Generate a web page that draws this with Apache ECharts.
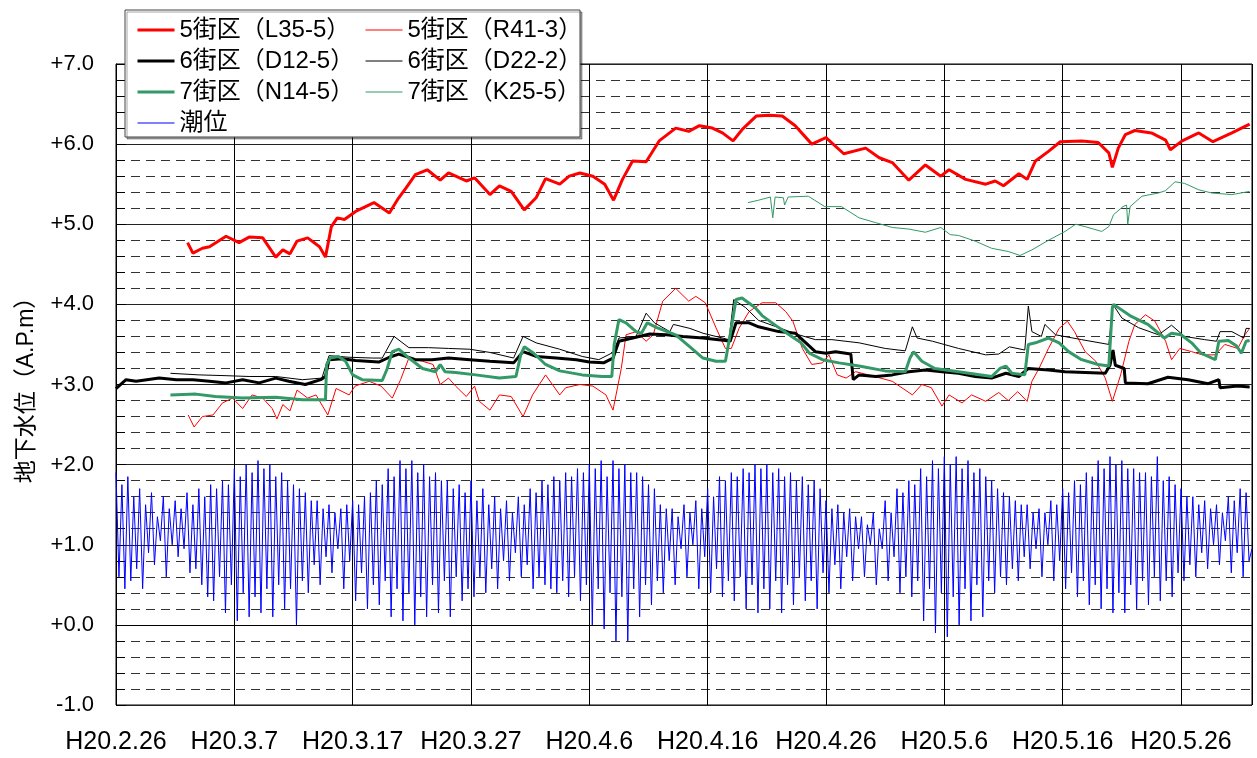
<!DOCTYPE html>
<html><head><meta charset="utf-8">
<script src="https://cdn.jsdelivr.net/npm/echarts@6/dist/echarts.min.js"></script>
<style>html,body{margin:0;padding:0;background:#fff}#c{width:1257px;height:758px}</style>
</head><body><div id="c"></div>
<script>
// x = days since H20.2.26
const xLabels = ['H20.2.26','H20.3.7','H20.3.17','H20.3.27','H20.4.6','H20.4.16','H20.4.26','H20.5.6','H20.5.16','H20.5.26'];
const yLabels = ['-1.0','+0.0','+1.0','+2.0','+3.0','+4.0','+5.0','+6.0','+7.0'];
const seriesNames = ['5街区（L35-5）','5街区（R41-3）','6街区（D12-5）','6街区（D22-2）','7街区（N14-5）','7街区（K25-5）','潮位'];

const L35_5 = [[6.05,4.77],[6.5,4.64],[7.3,4.70],[7.9,4.72],[9.3,4.85],[10.4,4.77],[11.25,4.84],[12.4,4.83],[13.5,4.59],[14.1,4.68],[14.7,4.63],[15.3,4.79],[16.2,4.83],[17.2,4.72],[17.7,4.59],[18.2,4.97],[18.7,5.08],[19.3,5.06],[20.25,5.16],[21.8,5.27],[23.1,5.14],[23.8,5.31],[24.5,5.45],[25.3,5.62],[26.3,5.68],[27.4,5.55],[28.1,5.64],[29.6,5.54],[30.3,5.58],[31.6,5.37],[32.4,5.48],[33.4,5.41],[34.5,5.18],[35.5,5.33],[36.3,5.57],[37.5,5.50],[38.3,5.60],[39.2,5.64],[40.3,5.60],[41.3,5.50],[42.05,5.30],[42.8,5.56],[43.65,5.79],[44.8,5.78],[45.9,6.04],[47.3,6.20],[48.4,6.16],[49.3,6.23],[50.4,6.20],[51.25,6.14],[52.15,6.04],[52.9,6.18],[54.1,6.35],[55.2,6.36],[56.3,6.35],[57.4,6.23],[58.8,6.00],[60.0,6.08],[61.5,5.88],[63.35,5.95],[64.5,5.83],[65.6,5.77],[67.0,5.55],[68.4,5.74],[69.7,5.60],[70.4,5.68],[71.8,5.56],[73.5,5.50],[74.3,5.54],[75.0,5.48],[76.3,5.63],[77.0,5.56],[77.7,5.79],[78.8,5.91],[79.8,6.03],[81.6,6.04],[83.0,6.02],[83.9,5.89],[84.2,5.71],[84.7,5.95],[85.3,6.12],[86.1,6.17],[87.5,6.14],[88.7,6.05],[89.1,5.93],[90.1,6.04],[91.5,6.14],[92.7,6.03],[94.3,6.14],[95.8,6.25]];

const R41_3 = [[6.1,2.62],[6.6,2.47],[7.3,2.60],[8.2,2.62],[9.0,2.77],[9.85,2.83],[10.7,2.70],[11.5,2.87],[12.4,2.83],[13.2,2.70],[13.6,2.57],[14.1,2.75],[14.7,2.67],[15.3,2.93],[16.2,2.83],[16.9,2.87],[17.9,2.62],[18.6,2.95],[19.7,2.87],[20.2,2.98],[21.4,3.04],[22.4,2.98],[23.35,2.83],[24.05,3.06],[24.75,3.33],[25.9,3.29],[26.8,3.25],[27.4,3.00],[28.1,3.08],[28.7,2.98],[29.6,2.85],[30.3,2.98],[30.7,2.79],[31.6,2.68],[32.4,2.87],[33.4,2.85],[34.4,2.60],[35.2,2.87],[36.3,3.12],[37.5,2.87],[38.0,2.96],[39.2,3.00],[40.3,2.98],[41.4,2.87],[42.0,2.68],[42.7,3.20],[43.1,3.62],[43.95,3.66],[44.8,3.54],[45.4,3.62],[46.2,4.04],[47.3,4.20],[48.4,4.04],[49.0,4.10],[49.8,4.02],[50.7,3.71],[51.5,3.45],[52.0,3.45],[52.65,3.70],[53.5,3.91],[54.6,4.02],[55.75,4.02],[56.6,3.91],[57.2,3.79],[58.0,3.45],[58.8,3.25],[59.7,3.27],[60.25,3.37],[60.95,3.12],[61.7,3.08],[62.5,3.16],[63.6,3.12],[65.6,3.04],[67.3,2.87],[68.1,3.00],[68.9,2.96],[69.8,2.73],[70.4,2.87],[71.5,2.77],[72.3,2.87],[73.5,2.79],[74.6,2.90],[75.4,2.80],[76.2,2.91],[77.0,2.79],[77.4,3.04],[78.0,3.20],[78.8,3.45],[79.7,3.70],[80.4,3.79],[81.0,3.66],[81.9,3.41],[82.8,3.29],[83.6,3.08],[84.2,2.79],[84.9,3.12],[85.6,3.54],[86.1,3.75],[87.0,3.87],[87.8,3.79],[88.7,3.54],[89.2,3.31],[89.9,3.45],[90.9,3.41],[91.8,3.37],[92.9,3.37],[93.7,3.50],[94.8,3.45],[95.4,3.62],[95.8,3.70]];

const D12_5 = [[0,2.95],[0.85,3.06],[1.7,3.04],[3.65,3.08],[5.1,3.06],[6.5,3.06],[7.9,3.04],[9.3,3.02],[10.7,3.06],[12.1,3.02],[13.5,3.08],[14.6,3.04],[16.0,3.00],[17.3,3.06],[17.7,3.10],[18.0,3.31],[19.1,3.32],[20.25,3.30],[22.2,3.28],[23.1,3.34],[23.9,3.38],[25.3,3.31],[26.7,3.31],[28.1,3.33],[29.9,3.31],[31.6,3.29],[33.6,3.27],[34.4,3.41],[35.5,3.35],[37.2,3.33],[38.9,3.31],[40.0,3.28],[41.2,3.27],[42.0,3.33],[42.5,3.54],[43.4,3.57],[45.1,3.63],[46.5,3.62],[47.9,3.60],[49.6,3.58],[51.5,3.55],[51.9,3.54],[52.4,3.77],[53.5,3.77],[54.3,3.72],[56.0,3.66],[57.4,3.64],[58.3,3.52],[59.1,3.41],[60.0,3.39],[60.8,3.41],[62.1,3.38],[62.3,3.06],[62.8,3.12],[64.2,3.10],[65.6,3.12],[67.0,3.16],[68.4,3.18],[69.8,3.16],[71.2,3.14],[72.6,3.10],[74.0,3.08],[75.2,3.14],[76.3,3.10],[77.1,3.20],[78.8,3.18],[80.2,3.16],[81.9,3.15],[83.6,3.14],[84.0,3.24],[84.25,3.43],[84.45,3.24],[85.2,3.20],[85.3,3.02],[87.2,3.01],[88.9,3.09],[90.6,3.06],[92.3,3.01],[93.2,3.06],[93.3,2.96],[94.8,2.98],[95.8,2.97]];

const D22_2 = [[4.6,3.14],[7.0,3.12],[9.3,3.11],[11.25,3.10],[13.5,3.10],[15.75,3.06],[17.4,3.08],[18.0,3.36],[19.7,3.34],[21.7,3.33],[22.5,3.33],[23.5,3.60],[24.75,3.46],[26.4,3.46],[28.1,3.45],[29.9,3.44],[31.6,3.40],[33.6,3.33],[34.4,3.60],[35.5,3.52],[37.5,3.44],[39.4,3.35],[40.8,3.31],[42.0,3.40],[42.5,3.58],[43.95,3.60],[44.8,3.89],[45.5,3.77],[46.8,3.66],[47.1,3.75],[48.5,3.70],[49.6,3.64],[51.8,3.56],[52.2,4.06],[53.2,3.96],[54.3,3.80],[56.0,3.71],[57.7,3.62],[59.1,3.56],[60.5,3.56],[62.8,3.52],[65.0,3.45],[66.7,3.42],[67.3,3.72],[67.7,3.58],[69.0,3.54],[71.2,3.45],[73.5,3.37],[74.6,3.38],[75.5,3.47],[76.8,3.43],[77.1,3.98],[77.4,3.66],[78.2,3.60],[78.5,3.75],[79.4,3.62],[81.6,3.56],[83.9,3.50],[84.25,4.00],[85.0,3.83],[86.4,3.71],[88.1,3.62],[89.2,3.74],[90.3,3.60],[92.0,3.56],[93.0,3.54],[93.3,3.66],[94.3,3.66],[95.3,3.58],[95.5,3.70],[95.8,3.70]];

const N14_5 = [[4.6,2.87],[6.75,2.88],[8.4,2.85],[10.7,2.83],[13.5,2.84],[15.75,2.81],[17.7,2.81],[17.8,3.25],[18.1,3.33],[18.8,3.35],[19.4,3.29],[20.0,3.12],[20.8,3.06],[22.5,3.05],[22.9,3.19],[23.35,3.41],[23.9,3.44],[24.75,3.33],[25.9,3.20],[27.0,3.16],[27.4,3.25],[27.8,3.16],[28.7,3.15],[30.4,3.12],[32.4,3.08],[33.8,3.10],[34.2,3.37],[34.5,3.47],[35.3,3.39],[36.3,3.25],[37.5,3.17],[39.4,3.12],[41.1,3.10],[41.9,3.10],[42.1,3.50],[42.5,3.81],[43.1,3.77],[43.95,3.66],[44.4,3.64],[44.9,3.77],[45.7,3.71],[47.3,3.62],[48.5,3.47],[49.6,3.33],[50.7,3.29],[51.5,3.29],[51.9,3.62],[52.4,4.06],[52.9,4.08],[54.0,3.96],[54.6,3.86],[56.0,3.71],[57.1,3.60],[57.9,3.52],[58.6,3.39],[59.7,3.31],[61.1,3.27],[62.8,3.23],[65.0,3.17],[66.7,3.16],[67.1,3.33],[67.4,3.41],[68.1,3.29],[69.2,3.20],[71.2,3.16],[74.0,3.10],[74.7,3.20],[75.2,3.23],[75.7,3.14],[76.8,3.12],[77.1,3.50],[77.7,3.52],[78.8,3.58],[79.7,3.52],[80.5,3.41],[81.6,3.31],[83.0,3.25],[83.9,3.23],[84.2,3.96],[84.3,4.00],[85.8,3.85],[87.2,3.75],[88.6,3.58],[89.2,3.64],[90.0,3.62],[90.9,3.52],[91.7,3.39],[92.9,3.31],[93.2,3.54],[94.0,3.55],[94.7,3.48],[95.1,3.39],[95.5,3.54],[95.8,3.55]];

const K25_5 = [[53.4,5.27],[54.3,5.30],[55.3,5.34],[55.5,5.08],[55.7,5.34],[56.4,5.33],[56.5,5.24],[56.8,5.34],[58.5,5.35],[59.9,5.22],[61.3,5.22],[62.8,5.08],[64.2,5.02],[65.6,4.96],[67.0,4.94],[68.4,4.90],[69.7,4.96],[70.5,4.87],[71.2,4.86],[72.6,4.79],[74.0,4.70],[75.4,4.66],[76.4,4.61],[77.4,4.68],[78.8,4.80],[80.2,4.91],[81.1,5.00],[81.9,4.97],[83.3,4.91],[83.9,4.97],[84.3,5.12],[85.1,5.22],[85.4,5.24],[85.5,5.00],[85.7,5.22],[86.7,5.35],[88.1,5.39],[88.7,5.42],[89.5,5.53],[90.3,5.51],[91.5,5.43],[92.6,5.39],[94.3,5.37],[95.8,5.41]];

// tide level, one reading every 6 hours from H20.2.26 0:00
const TIDE_STEP = 0.25;
const tide = [
1.90,0.60,1.75,0.45, 1.85,0.55,1.60,0.70, 1.70,0.45,1.50,0.90, 1.65,0.75,1.35,1.05, 1.60,0.60,1.45,1.00,
1.55,0.85,1.45,0.95, 1.65,0.65,1.50,0.70, 1.70,0.50,1.60,0.35, 1.75,0.30,1.70,0.60, 1.80,0.15,1.75,0.50,
1.95,0.05,1.85,0.40, 2.00,0.10,1.90,0.35, 2.05,0.15,1.95,0.45, 2.00,0.10,1.85,0.50, 1.90,0.20,1.80,0.45,
1.75,0.00,1.70,0.55, 1.65,0.40,1.55,0.75, 1.55,0.50,1.45,0.85, 1.50,0.65,1.40,0.95, 1.45,0.45,1.50,0.80,
1.55,0.30,1.50,0.65, 1.60,0.20,1.65,0.50, 1.80,0.25,1.75,0.55, 1.95,0.10,1.85,0.45, 2.05,0.05,1.95,0.40,
2.05,0.00,1.90,0.35, 2.00,0.10,1.85,0.50, 1.90,0.15,1.80,0.55, 1.80,0.10,1.70,0.60, 1.75,0.30,1.65,0.45,
1.80,0.35,1.55,0.60, 1.70,0.40,1.50,0.70, 1.60,0.45,1.45,0.80, 1.55,0.55,1.40,0.90, 1.60,0.60,1.50,0.75,
1.70,0.45,1.65,0.60, 1.80,0.50,1.75,0.45, 1.85,0.40,1.80,0.55, 1.90,0.35,1.85,0.60, 1.95,0.30,1.90,0.50,
2.00,0.00,1.95,0.45, 2.05,-0.05,1.85,0.40, 2.05,-0.20,1.95,0.35, 2.00,-0.20,1.90,0.45, 1.90,0.10,1.85,0.50,
1.75,0.25,1.70,0.55, 1.50,0.40,1.45,0.80, 1.45,0.50,1.35,0.95, 1.50,0.60,1.40,1.00, 1.55,0.45,1.45,0.85,
1.70,0.40,1.60,0.70, 1.85,0.35,1.80,0.55, 1.90,0.30,1.85,0.60, 1.95,0.20,1.90,0.50, 2.00,0.15,1.95,0.45,
2.00,0.20,1.90,0.55, 1.95,0.15,1.85,0.50, 1.90,0.25,1.80,0.60, 1.85,0.30,1.75,0.55, 1.80,0.20,1.70,0.65,
1.55,0.40,1.45,0.75, 1.50,0.45,1.40,0.85, 1.45,0.55,1.35,0.95, 1.35,0.60,1.25,1.00, 1.40,0.50,1.20,0.95,
1.55,0.55,1.40,0.85, 1.70,0.40,1.65,0.60, 1.80,0.35,1.75,0.55, 1.95,0.05,1.85,0.45, 2.05,-0.10,1.95,0.40,
2.10,-0.15,2.00,0.35, 2.10,0.00,1.95,0.45, 2.05,0.05,1.90,0.50, 1.95,0.10,1.85,0.55, 1.80,0.40,1.70,0.60,
1.65,0.50,1.60,0.70, 1.55,0.55,1.50,0.85, 1.50,0.70,1.40,0.95, 1.45,0.60,1.40,1.00, 1.55,0.55,1.50,0.80,
1.70,0.45,1.65,0.65, 1.80,0.35,1.75,0.55, 1.90,0.25,1.85,0.50, 2.05,0.20,1.95,0.45, 2.10,0.15,2.00,0.40,
2.05,0.15,1.95,0.50, 1.95,0.20,1.90,0.55, 1.90,0.25,1.85,0.60, 2.10,0.30,1.80,0.55, 1.85,0.35,1.75,0.65,
1.70,0.55,1.60,0.75, 1.60,0.60,1.50,0.90, 1.55,0.70,1.45,1.00, 1.50,0.75,1.40,1.05, 1.60,0.65,1.55,0.90,
1.70,0.60,1.65,0.80, 0.95
];

const FONT = '"Liberation Sans", Arial, "Noto Sans CJK JP", sans-serif';
const chart = echarts.init(document.getElementById('c'));

const GREEN = '#339966';
const styleOf = {};
styleOf[seriesNames[0]] = ['#ff0000', 3];
styleOf[seriesNames[1]] = ['#ff0000', 1];
styleOf[seriesNames[2]] = ['#000000', 3];
styleOf[seriesNames[3]] = ['#000000', 1];
styleOf[seriesNames[4]] = [GREEN, 3];
styleOf[seriesNames[5]] = [GREEN, 1];
styleOf[seriesNames[6]] = ['#0000ff', 1];

function line(name, data) {
  const [color, width] = styleOf[name];
  return { name, type: 'line', data, symbol: 'none', showSymbol: false,
    lineStyle: { color, width }, itemStyle: { color }, animation: false, z: 3 };
}
const series = [
  line(seriesNames[6], tide.map((v, i) => [i * TIDE_STEP, v])),
  line(seriesNames[5], K25_5),
  line(seriesNames[1], R41_3),
  line(seriesNames[3], D22_2),
  line(seriesNames[2], D12_5),
  line(seriesNames[4], N14_5),
  line(seriesNames[0], L35_5)
];

function legendItem(name) {
  const [color, width] = styleOf[name];
  return { name, lineStyle: { color, width } };
}

const legendCommon = {
  orient: 'vertical', padding: 0, itemWidth: 37, itemHeight: 14, itemGap: 7, z: 10,
  selectedMode: false,
  itemStyle: { opacity: 0, borderWidth: 0 },
  textStyle: { fontFamily: FONT, fontSize: 24, color: '#000', lineHeight: 24, padding: [0, 0, 0, 0] }
};

chart.setOption({
  backgroundColor: '#fff',
  animation: false,
  grid: { left: 116, right: 5, top: 64, bottom: 53, show: true, borderColor: '#000', borderWidth: 1, backgroundColor: 'transparent' },
  graphic: [{
    type: 'rect', z: 9, shape: { x: 125, y: 10, width: 455, height: 127 },
    style: { fill: '#fff', stroke: '#444', lineWidth: 1, shadowColor: 'rgba(0,0,0,0.35)', shadowOffsetX: 2, shadowOffsetY: 2, shadowBlur: 0 }
  }],
  legend: [
    Object.assign({}, legendCommon, { left: 136, top: 18, data: [0, 2, 4, 6].map(i => legendItem(seriesNames[i])) }),
    Object.assign({}, legendCommon, { left: 365, top: 18, data: [1, 3, 5].map(i => legendItem(seriesNames[i])) })
  ],
  xAxis: {
    type: 'value', min: 0, max: 96, interval: 10,
    axisLine: { show: true, lineStyle: { color: '#000' } },
    axisTick: { show: false },
    axisLabel: { margin: 25, fontFamily: FONT, fontSize: 25, color: '#000',
      formatter: v => (v % 10 === 0 && v / 10 < xLabels.length) ? xLabels[v / 10] : '' },
    splitLine: { show: true, lineStyle: { color: '#000', width: 1 } }
  },
  yAxis: {
    type: 'value', min: -1, max: 7, interval: 1,
    name: '地下水位（A.P.m）', nameLocation: 'middle', nameGap: 78,
    nameTextStyle: { fontFamily: FONT, fontSize: 23, color: '#000' },
    axisLine: { show: true, lineStyle: { color: '#000' } },
    axisTick: { show: true, inside: true, length: 10, lineStyle: { color: '#000' } },
    minorTick: { show: true, splitNumber: 5, length: 9, lineStyle: { color: '#000' } },
    axisLabel: { margin: 22, fontFamily: FONT, fontSize: 22, color: '#000',
      formatter: v => { const s = yLabels[Math.round(v + 1)]; return s === undefined ? '' : s; } },
    splitLine: { show: true, lineStyle: { color: '#222', width: 1 } },
    minorSplitLine: { show: true, lineStyle: { color: '#333', width: 1, type: [9, 6] } }
  },
  series
});
</script></body></html>
